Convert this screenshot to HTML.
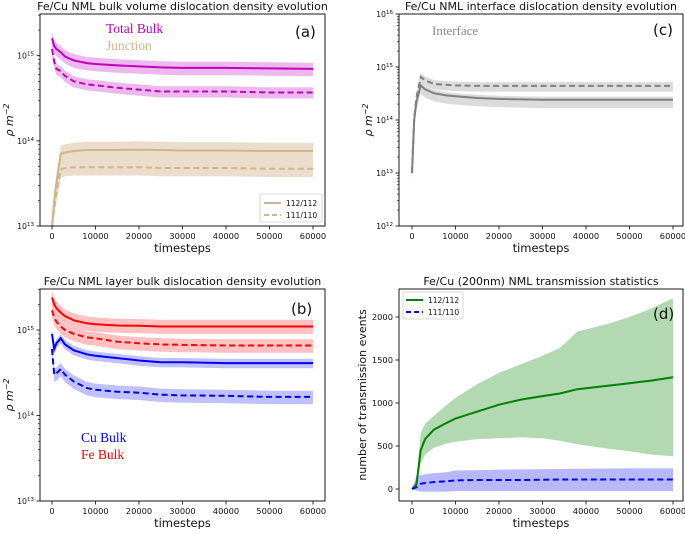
<!DOCTYPE html>
<html><head><meta charset="utf-8"><style>
body{margin:0;background:#fff;}
svg text{font-family:"DejaVu Sans","Liberation Sans",sans-serif;}
</style></head><body>
<svg id="fig" width="685" height="529" viewBox="0 0 685 529" xmlns="http://www.w3.org/2000/svg"></svg>
<script>
// ---- shared x data ----
const tA = [0,500,1000,2000,3000,5000,8000,10000,15000,20000,25000,30000,40000,50000,60000];
// panel a
const aBulkSolid = [1.6e15,1.3e15,1.2e15,1.1e15,9.8e14,8.8e14,8.2e14,8.0e14,7.7e14,7.5e14,7.3e14,7.2e14,7.2e14,7.1e14,7.0e14];
const aBulkDash  = [1.2e15,8.5e14,7.0e14,6.6e14,5.8e14,5.0e14,4.6e14,4.5e14,4.2e14,4.0e14,3.8e14,3.8e14,3.8e14,3.7e14,3.7e14];
const aJuncSolid = [1.0e13,2.0e13,3.2e13,7.0e13,7.3e13,7.6e13,7.8e13,7.8e13,7.8e13,7.9e13,7.8e13,7.7e13,7.7e13,7.6e13,7.6e13];
const aJuncDash  = [1.0e13,1.6e13,2.4e13,4.6e13,4.8e13,4.9e13,4.9e13,4.9e13,4.9e13,4.9e13,4.8e13,4.8e13,4.8e13,4.7e13,4.7e13];
// panel c
const cSolid = [1.0e13,1.0e14,2.2e14,4.5e14,3.8e14,3.2e14,2.9e14,2.8e14,2.6e14,2.5e14,2.45e14,2.4e14,2.4e14,2.4e14,2.4e14];
const cDash  = [1.0e13,1.1e14,2.6e14,6.5e14,5.6e14,4.8e14,4.6e14,4.5e14,4.4e14,4.4e14,4.4e14,4.4e14,4.4e14,4.4e14,4.4e14];
// panel b
const bFeSolid = [2.4e15,2.0e15,1.8e15,1.6e15,1.45e15,1.3e15,1.2e15,1.17e15,1.13e15,1.12e15,1.1e15,1.1e15,1.1e15,1.1e15,1.1e15];
const bFeDash  = [1.7e15,1.4e15,1.25e15,1.1e15,1.0e15,9.0e14,8.2e14,8.0e14,7.3e14,7.0e14,6.8e14,6.7e14,6.6e14,6.6e14,6.6e14];
const bCuSolid = [9.0e14,6.0e14,7.0e14,8.0e14,6.8e14,5.8e14,5.2e14,5.0e14,4.7e14,4.4e14,4.2e14,4.2e14,4.1e14,4.1e14,4.1e14];
const bCuDash  = [6.0e14,3.0e14,3.1e14,3.5e14,3.0e14,2.5e14,2.1e14,2.0e14,1.9e14,1.85e14,1.75e14,1.72e14,1.7e14,1.65e14,1.65e14];
// panel d
const tD = [0,1000,2000,3000,5000,8000,10000,15000,20000,25000,30000,34000,38000,45000,50000,55000,60000];
const dGreen = [0,50,450,580,690,770,820,900,980,1040,1080,1110,1160,1200,1230,1260,1300];
const dGreenHi = [0,100,650,760,850,980,1060,1220,1350,1450,1550,1640,1830,1920,2000,2100,2220];
const dGreenLo = [0,10,300,400,480,530,550,580,590,600,590,560,520,470,440,400,380];
const dBlue = [0,20,60,70,80,90,100,105,105,105,108,110,110,110,110,110,110];
const dBlueHi = [0,150,160,170,185,195,215,220,225,228,230,232,235,238,240,240,240];
const dBlueLo = [0,-20,-30,-30,-30,-30,-25,-25,-25,-25,-25,-25,-25,-25,-25,-25,-25];
const xTicks = [0,10000,20000,30000,40000,50000,60000];

const NS="http://www.w3.org/2000/svg";
const svg=document.getElementById('fig');
function mk(tag,attrs,parent){const e=document.createElementNS(NS,tag);for(const k in attrs)e.setAttribute(k,attrs[k]);(parent||svg).appendChild(e);return e;}

function makePanel(P){
  const g=mk('g',{});
  
  
  const sx=v=>P.x0+(v-0)/60000*(P.x1-P.x0);
  const sy=P.log? v=>P.yb-(Math.log10(v)-P.ymin)/(P.ymax-P.ymin)*(P.yb-P.yt)
                : v=>P.y0px-(v)/1000*P.per1000;
  P.sx=sx;P.sy=sy;P.g=g;
  const t=mk('text',{x:(P.L+P.R)/2,y:P.T-4,'text-anchor':'middle','font-size':'11',fill:'#111'},g);
  t.textContent=P.title;
  
  return P;
}
function frame(P){
  const g=P.g;
  const r=mk('rect',{x:P.L,y:P.T,width:P.R-P.L,height:P.B-P.T,fill:'none',stroke:'#000','stroke-width':0.9},g);
  
  xTicks.forEach(v=>{
    const x=P.sx(v);
    mk('line',{x1:x,x2:x,y1:P.B,y2:P.B+3.5,stroke:'#000','stroke-width':0.8},g);
    const tx=mk('text',{x:x,y:P.B+13,'text-anchor':'middle','font-size':'8.3',fill:'#111'},g);
    tx.textContent=v;
    
  });
  const xl=mk('text',{x:(P.L+P.R)/2,y:P.B+26,'text-anchor':'middle','font-size':'11.5',fill:'#111'},g);
  xl.textContent='timesteps';
  
  if(P.log){
    for(let d=P.ymin;d<=P.ymax;d++){
      const y=P.sy(Math.pow(10,d));
      mk('line',{x1:P.L-3.5,x2:P.L,y1:y,y2:y,stroke:'#000','stroke-width':0.8},g);
      const tx=mk('text',{x:P.L-6,y:y+3,'text-anchor':'end','font-size':'7.8',fill:'#111'},g);
      tx.textContent='10';
      const s=mk('tspan',{dy:-3,'font-size':'5.5'},tx);s.textContent=String(d);
      
      if(d<P.ymax) for(let m=2;m<10;m++){
        const ym=P.sy(m*Math.pow(10,d));
        if(ym>=P.T) mk('line',{x1:P.L-2,x2:P.L,y1:ym,y2:ym,stroke:'#000','stroke-width':0.6},g);
      }
    }
    const ytl=mk('text',{x:0,y:0,'text-anchor':'middle','font-size':'11',fill:'#111','font-style':'italic',transform:`translate(${P.L-27},${(P.T+P.B)/2}) rotate(-90)`},g);
    ytl.textContent='ρ m';
    const s=mk('tspan',{dy:-4,'font-size':'8'},ytl);s.textContent='−2';
    
  } else {
    [0,500,1000,1500,2000].forEach(v=>{
      const y=P.sy(v);
      mk('line',{x1:P.L-3.5,x2:P.L,y1:y,y2:y,stroke:'#000','stroke-width':0.8},g);
      const tx=mk('text',{x:P.L-6,y:y+3,'text-anchor':'end','font-size':'8.3',fill:'#111'},g);
      tx.textContent=v;
      
    });
    const ytl=mk('text',{x:0,y:0,'text-anchor':'middle','font-size':'11',fill:'#111',transform:`translate(${P.L-33},${(P.T+P.B)/2}) rotate(-90)`},g);
    ytl.textContent='number of transmission events';
    
  }
}
function clip(P,id){const c=mk('clipPath',{id:id},svg);mk('rect',{x:P.L,y:P.T,width:P.R-P.L,height:P.B-P.T},c);}
function band(P,xs,lo,hi,fill,op,name,cid){
  let d='';xs.forEach((x,i)=>{d+=(i?'L':'M')+P.sx(x).toFixed(1)+','+P.sy(hi[i]).toFixed(1);});
  for(let i=xs.length-1;i>=0;i--)d+='L'+P.sx(xs[i]).toFixed(1)+','+P.sy(lo[i]).toFixed(1);
  const p=mk('path',{d:d+'Z',fill:fill,'fill-opacity':op,stroke:'none','clip-path':`url(#${cid})`},P.g);
  
}
function line(P,xs,ys,col,dash,name,cid,w){
  const pts=xs.map((x,i)=>P.sx(x).toFixed(1)+','+P.sy(ys[i]).toFixed(1)).join(' ');
  const a={points:pts,fill:'none',stroke:col,'stroke-width':w||2,'clip-path':`url(#${cid})`};
  if(dash)a['stroke-dasharray']='6,3.5';
  const p=mk('polyline',a,P.g);
  
}
function scale(arr,f){return arr.map(v=>v*f);}
function label(P,x,y,txt,col,size,serif,name){
  const t=mk('text',{x:x,y:y,fill:col,'font-size':size},P.g);
  if(serif)t.setAttribute('style','font-family:"Liberation Serif",serif');
  t.textContent=txt;
  
}

// ---- Panel a ----
const A=makePanel({name:'panel-a',title:'Fe/Cu NML bulk volume dislocation density evolution',L:40,R:325,T:14,B:226,x0:52,x1:313,log:true,ymin:13,ymax:15.49,yt:14,yb:226});
clip(A,'ca');
band(A,tA,scale(aBulkSolid,0.82),scale(aBulkSolid,1.18),'#cc33cc',0.35,'band-total-bulk-112','ca');
band(A,tA,scale(aBulkDash,0.85),scale(aBulkDash,1.15),'#cc33cc',0.35,'band-total-bulk-111','ca');
band(A,tA,scale(aJuncDash,0.8),scale(aJuncSolid,1.25),'#d2b48c',0.45,'band-junction','ca');
line(A,tA,aBulkSolid,'#bf00bf',false,'line-total-bulk-112','ca');
line(A,tA,aBulkDash,'#bf00bf',true,'line-total-bulk-111','ca');
line(A,tA,aJuncSolid,'#d2b48c',false,'line-junction-112','ca');
line(A,tA,aJuncDash,'#d2b48c',true,'line-junction-111','ca');
frame(A);
label(A,106,33,'Total Bulk','#bf00bf','13.5',true,'label-total-bulk');
label(A,106,50,'Junction','#d2b48c','13.5',true,'label-junction');
label(A,295,37,'(a)','#111','15',false,'panel-label-a');
(function(){const lg=mk('g',{},A.g);
mk('rect',{x:260,y:194,width:62,height:28,rx:2,fill:'#fff',stroke:'#ccc','stroke-width':0.8},lg);
mk('line',{x1:264,x2:281,y1:203,y2:203,stroke:'#d2b48c','stroke-width':2},lg);
mk('line',{x1:264,x2:281,y1:215,y2:215,stroke:'#d2b48c','stroke-width':2,'stroke-dasharray':'5,3'},lg);
const t1=mk('text',{x:286,y:206,'font-size':'7.5',fill:'#111'},lg);t1.textContent='112/112';
const t2=mk('text',{x:286,y:218,'font-size':'7.5',fill:'#111'},lg);t2.textContent='111/110';})();

// ---- Panel c ----
const C=makePanel({name:'panel-c',title:'Fe/Cu NML interface dislocation density evolution',L:399,R:683,T:14,B:226,x0:412,x1:673,log:true,ymin:12,ymax:16,yt:14,yb:226});
clip(C,'cc');
band(C,tA,scale(cDash,0.78),scale(cDash,1.18),'#b0b0b0',0.45,'band-interface-111','cc');
band(C,tA,scale(cSolid,0.7),scale(cSolid,1.15),'#b0b0b0',0.45,'band-interface-112','cc');
line(C,tA,cSolid,'#808080',false,'line-interface-112','cc');
line(C,tA,cDash,'#808080',true,'line-interface-111','cc');
frame(C);
label(C,432,35,'Interface','#888','13',true,'label-interface');
label(C,653,35,'(c)','#111','15',false,'panel-label-c');

// ---- Panel b ----
const B=makePanel({name:'panel-b',title:'Fe/Cu NML layer bulk dislocation density evolution',L:40,R:325,T:289,B:501,x0:52,x1:313,log:true,ymin:13,ymax:15.48,yt:289,yb:501});
clip(B,'cb');
band(B,tA,scale(bFeSolid,0.82),scale(bFeSolid,1.2),'#ff3333',0.3,'band-fe-112','cb');
band(B,tA,scale(bFeDash,0.82),scale(bFeDash,1.18),'#ff3333',0.3,'band-fe-111','cb');
band(B,tA,scale(bCuSolid,0.87),scale(bCuSolid,1.12),'#3333ff',0.3,'band-cu-112','cb');
band(B,tA,scale(bCuDash,0.82),scale(bCuDash,1.18),'#3333ff',0.3,'band-cu-111','cb');
line(B,tA,bFeSolid,'#ff0000',false,'line-fe-112','cb');
line(B,tA,bFeDash,'#ff0000',true,'line-fe-111','cb');
line(B,tA,bCuSolid,'#0000ff',false,'line-cu-112','cb');
line(B,tA,bCuDash,'#0000ff',true,'line-cu-111','cb');
frame(B);
label(B,81,442,'Cu Bulk','#0000ff','13.5',true,'label-cu-bulk');
label(B,81,459,'Fe Bulk','#ff0000','13.5',true,'label-fe-bulk');
label(B,291,314,'(b)','#111','15',false,'panel-label-b');

// ---- Panel d ----
const D=makePanel({name:'panel-d',title:'Fe/Cu (200nm) NML transmission statistics',L:399,R:683,T:289,B:501,x0:412,x1:673,log:false,y0px:489,per1000:86});
clip(D,'cd');
band(D,tD,dGreenLo,dGreenHi,'#008000',0.3,'band-green-112','cd');
band(D,tD,dBlueLo,dBlueHi,'#3333ff',0.35,'band-blue-111','cd');
line(D,tD,dGreen,'#008000',false,'line-112','cd');
line(D,tD,dBlue,'#0000ff',true,'line-111','cd');
frame(D);
label(D,653,319,'(d)','#111','15',false,'panel-label-d');
(function(){const lg=mk('g',{},D.g);
mk('rect',{x:403,y:292,width:60,height:27,rx:2,fill:'#fff',stroke:'#ccc','stroke-width':0.8},lg);
mk('line',{x1:406,x2:423,y1:300,y2:300,stroke:'#008000','stroke-width':2},lg);
mk('line',{x1:406,x2:423,y1:312,y2:312,stroke:'#0000ff','stroke-width':2,'stroke-dasharray':'5,3'},lg);
const t1=mk('text',{x:428,y:303,'font-size':'7.5',fill:'#111'},lg);t1.textContent='112/112';
const t2=mk('text',{x:428,y:315,'font-size':'7.5',fill:'#111'},lg);t2.textContent='111/110';})();
</script>
</body></html>
